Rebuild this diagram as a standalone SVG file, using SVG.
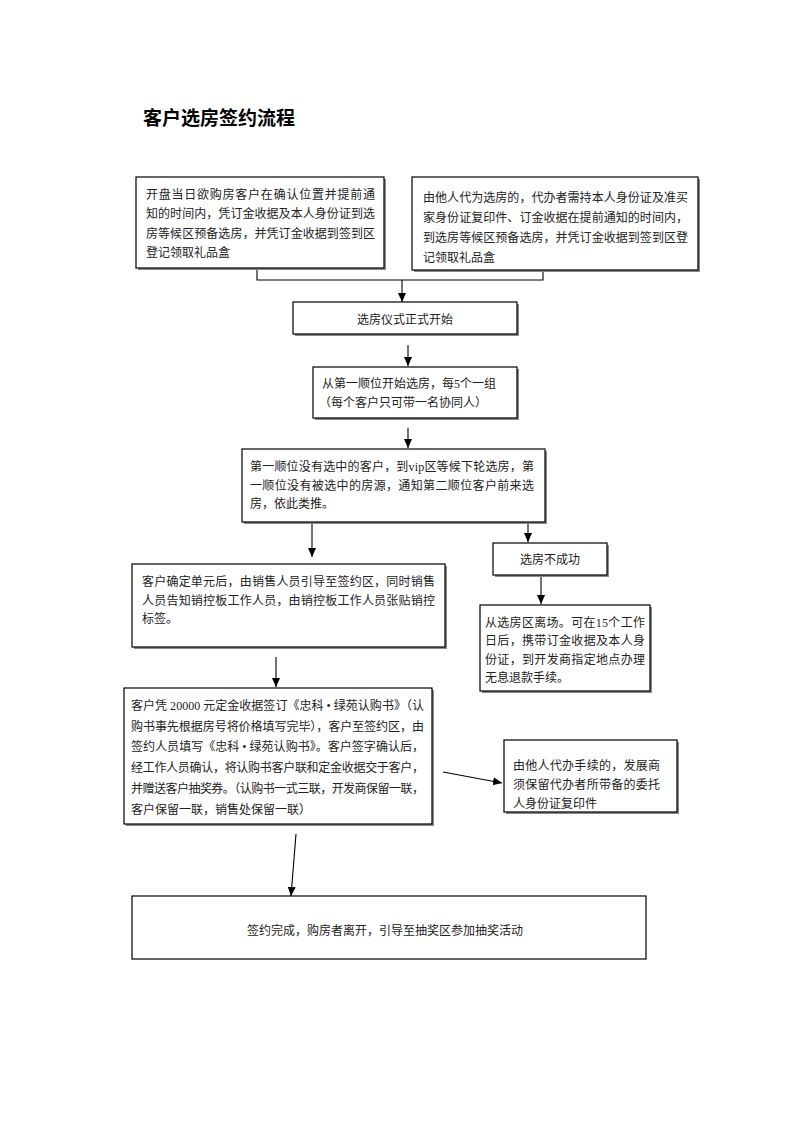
<svg xmlns="http://www.w3.org/2000/svg" width="793" height="1122" viewBox="0 0 793 1122">
<style>
.t{font-family:"Liberation Serif","Noto Sans CJK SC",serif;font-size:12px;fill:#222}
.title{font-family:"Liberation Sans","Noto Sans CJK SC",sans-serif;font-size:19px;font-weight:bold;fill:#000}
.box{fill:#fff;stroke:#000;stroke-width:1.2}
.sh{fill:#8a8a8a;stroke:none}
.ln{fill:none;stroke:#000;stroke-width:1.1}
</style>
<defs>
<marker id="ah" viewBox="0 0 10 10" refX="10" refY="5" markerWidth="9" markerHeight="9" orient="auto" markerUnits="userSpaceOnUse">
<path d="M0,0.5 L10,5 L0,9.5 z" fill="#000"/>
</marker>
</defs>
<rect width="793" height="1122" fill="#fff"/>
<text class="title" x="143" y="125">客户选房签约流程</text>

<g id="connectors">
<polyline class="ln" points="257,268 257,280 543,280 543,270"/>
<line class="ln" x1="402" y1="280" x2="402" y2="302" marker-end="url(#ah)"/>
<line class="ln" x1="408" y1="345" x2="408" y2="366" marker-end="url(#ah)"/>
<line class="ln" x1="408" y1="428" x2="408" y2="448" marker-end="url(#ah)"/>
<line class="ln" x1="312" y1="522" x2="312" y2="557" marker-end="url(#ah)"/>
<line class="ln" x1="528" y1="522" x2="528" y2="542" marker-end="url(#ah)"/>
<line class="ln" x1="541" y1="575" x2="541" y2="604" marker-end="url(#ah)"/>
<line class="ln" x1="276" y1="657" x2="276" y2="687" marker-end="url(#ah)"/>
<line class="ln" x1="443" y1="772" x2="502" y2="783" marker-end="url(#ah)"/>
<line class="ln" x1="296" y1="834" x2="291" y2="896" marker-end="url(#ah)"/>
</g>

<g id="n1">
<rect class="sh" x="138" y="179" width="248" height="91"/>
<rect class="box" x="136" y="177" width="248" height="91"/>
<text class="t" x="146" y="198.5" textLength="229" lengthAdjust="spacing">开盘当日欲购房客户在确认位置并提前通</text>
<text class="t" x="146" y="218" textLength="229" lengthAdjust="spacing">知的时间内，凭订金收据及本人身份证到选</text>
<text class="t" x="146" y="237.5" textLength="229" lengthAdjust="spacing">房等候区预备选房，并凭订金收据到签到区</text>
<text class="t" x="146" y="257">登记领取礼品盒</text>
</g>

<g id="n2">
<rect class="sh" x="414" y="179" width="286" height="93"/>
<rect class="box" x="412" y="177" width="286" height="93"/>
<text class="t" x="423" y="201.5" textLength="265" lengthAdjust="spacing">由他人代为选房的，代办者需持本人身份证及准买</text>
<text class="t" x="423" y="221.5" textLength="265" lengthAdjust="spacing">家身份证复印件、订金收据在提前通知的时间内，</text>
<text class="t" x="423" y="241.5" textLength="265" lengthAdjust="spacing">到选房等候区预备选房，并凭订金收据到签到区登</text>
<text class="t" x="423" y="261.5">记领取礼品盒</text>
</g>

<g id="n3">
<rect class="sh" x="295" y="304" width="224" height="32"/>
<rect class="box" x="293" y="302" width="224" height="32"/>
<text class="t" x="405" y="323.5" text-anchor="middle">选房仪式正式开始</text>
</g>

<g id="n4">
<rect class="sh" x="315" y="369" width="204" height="51"/>
<rect class="box" x="313" y="367" width="204" height="51"/>
<text class="t" x="322" y="387.5">从第一顺位开始选房，每5个一组</text>
<text class="t" x="319" y="406.5">（每个客户只可带一名协同人）</text>
</g>

<g id="n5">
<rect class="sh" x="244" y="451" width="303" height="73"/>
<rect class="box" x="242" y="449" width="303" height="73"/>
<text class="t" x="250" y="470.5" textLength="284" lengthAdjust="spacing">第一顺位没有选中的客户，到vip区等候下轮选房，第</text>
<text class="t" x="250" y="489.5" textLength="284" lengthAdjust="spacing">一顺位没有被选中的房源，通知第二顺位客户前来选</text>
<text class="t" x="250" y="508">房，依此类推。</text>
</g>

<g id="n6">
<rect class="sh" x="495" y="545" width="114" height="32"/>
<rect class="box" x="493" y="543" width="114" height="32"/>
<text class="t" x="550" y="564" text-anchor="middle">选房不成功</text>
</g>

<g id="n7">
<rect class="sh" x="482" y="607" width="170" height="86"/>
<rect class="box" x="480" y="605" width="170" height="86"/>
<text class="t" x="485" y="626.5" textLength="160" lengthAdjust="spacing">从选房区离场。可在15个工作</text>
<text class="t" x="485" y="645" textLength="160" lengthAdjust="spacing">日后，携带订金收据及本人身</text>
<text class="t" x="485" y="663.5" textLength="160" lengthAdjust="spacing">份证，到开发商指定地点办理</text>
<text class="t" x="485" y="682">无息退款手续。</text>
</g>

<g id="n8">
<rect class="sh" x="134" y="566" width="313" height="83"/>
<rect class="box" x="132" y="564" width="313" height="83"/>
<text class="t" x="142" y="585.5" textLength="293" lengthAdjust="spacing">客户确定单元后，由销售人员引导至签约区，同时销售</text>
<text class="t" x="142" y="604.5" textLength="293" lengthAdjust="spacing">人员告知销控板工作人员，由销控板工作人员张贴销控</text>
<text class="t" x="142" y="623">标签。</text>
</g>

<g id="n9">
<rect class="sh" x="126" y="690" width="308" height="136"/>
<rect class="box" x="124" y="688" width="308" height="136"/>
<text class="t" x="131" y="709.5" textLength="293" lengthAdjust="spacing">客户凭 20000 元定金收据签订《忠科 • 绿苑认购书》（认</text>
<text class="t" x="131" y="730.5" textLength="293" lengthAdjust="spacing">购书事先根据房号将价格填写完毕），客户至签约区，由</text>
<text class="t" x="131" y="751" textLength="293" lengthAdjust="spacing">签约人员填写《忠科 • 绿苑认购书》。客户签字确认后，</text>
<text class="t" x="131" y="771.5" textLength="293" lengthAdjust="spacing">经工作人员确认，将认购书客户联和定金收据交于客户，</text>
<text class="t" x="131" y="792.5" textLength="293" lengthAdjust="spacing">并赠送客户抽奖券。（认购书一式三联，开发商保留一联，</text>
<text class="t" x="131" y="813.5">客户保留一联，销售处保留一联）</text>
</g>

<g id="n10">
<rect class="sh" x="506" y="742" width="173" height="72"/>
<rect class="box" x="504" y="740" width="173" height="72"/>
<text class="t" x="513" y="769.5" textLength="147" lengthAdjust="spacing">由他人代办手续的，发展商</text>
<text class="t" x="513" y="789" textLength="147" lengthAdjust="spacing">须保留代办者所带备的委托</text>
<text class="t" x="513" y="807.5">人身份证复印件</text>
</g>

<g id="n11">
<rect class="box" x="132" y="896" width="514" height="63"/>
<text class="t" x="385" y="934.5" text-anchor="middle">签约完成，购房者离开，引导至抽奖区参加抽奖活动</text>
</g>
</svg>
